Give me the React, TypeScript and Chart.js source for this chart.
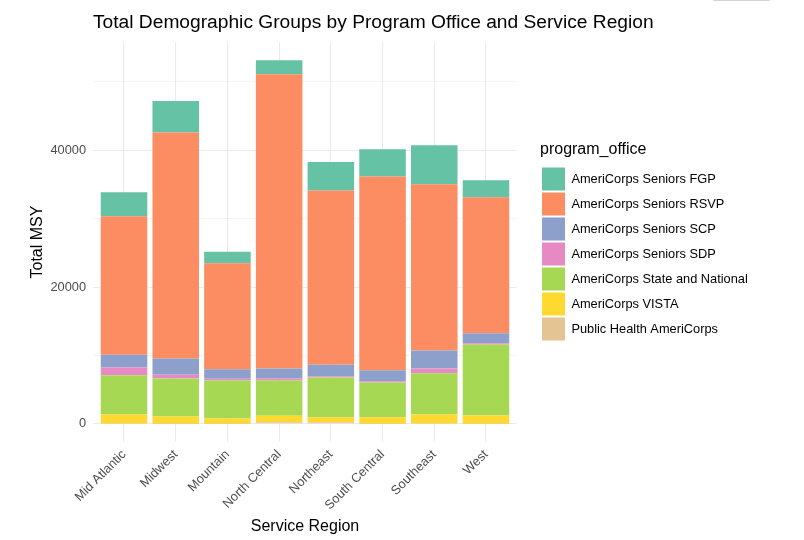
import React, { useEffect, useRef } from "react";
import { Chart, registerables } from "chart.js";

Chart.register(...registerables);

const TITLE = "Total Demographic Groups by Program Office and Service Region";
const regions = ["Mid Atlantic", "Midwest", "Mountain", "North Central", "Northeast", "South Central", "Southeast", "West"];

// Series values (stack order bottom -> top)
const publicHealth = [30, 20, 20, 230, 230, 20, 30, 20];
const vista = [1330, 1050, 760, 940, 740, 950, 1330, 1190];
const stateNational = [5750, 5560, 5560, 5170, 5810, 5080, 6050, 10400];
const seniorsSDP = [1130, 540, 250, 290, 190, 190, 690, 190];
const seniorsSCP = [1860, 2390, 1400, 1460, 1670, 1610, 2630, 1460];
const seniorsRSVP = [20250, 33040, 15480, 43040, 25470, 28310, 24300, 19870];
const seniorsFGP = [3510, 4630, 1710, 2050, 4190, 4000, 5710, 2490];

const yTicks = [0, 10000, 20000, 30000, 40000, 50000];
const yLabelTicks = [0, 20000, 40000];

const FONT = '"Liberation Sans", Arial, sans-serif';

const series = [
  { label: "Public Health AmeriCorps", data: publicHealth, color: "#E5C494" },
  { label: "AmeriCorps VISTA", data: vista, color: "#FFD92F" },
  { label: "AmeriCorps State and National", data: stateNational, color: "#A6D854" },
  { label: "AmeriCorps Seniors SDP", data: seniorsSDP, color: "#E78AC3" },
  { label: "AmeriCorps Seniors SCP", data: seniorsSCP, color: "#8DA0CB" },
  { label: "AmeriCorps Seniors RSVP", data: seniorsRSVP, color: "#FC8D62" },
  { label: "AmeriCorps Seniors FGP", data: seniorsFGP, color: "#66C2A5" },
];

export default function App() {
  const ref = useRef<HTMLCanvasElement>(null);

  useEffect(() => {
    const canvas = ref.current;
    if (!canvas) return;

    const totals = regions.map((_, i) => series.reduce((s, d) => s + d.data[i], 0));
    const maxTotal = Math.max(...totals);
    const yMin = -maxTotal * 0.05;
    const yMax = maxTotal * 1.05;

    const mctx = document.createElement("canvas").getContext("2d")!;
    mctx.font = `12.8px ${FONT}`;
    const maxW = Math.max(...series.map((s) => mctx.measureText(s.label).width));
    const legendW = 2 + 23 + 6.4 + maxW + 10;
    const panelRight = 517;
    const padRight = Math.max(0, 804 - panelRight - legendW);

    const shiftPlugin = {
      id: "ggShift",
      afterLayout(chart: any) {
        const lg = chart.legend;
        if (lg) {
          lg.left += 23;
          lg.right += 23;
        }
        const tb = chart.titleBlock;
        if (tb) {
          tb.left = chart.chartArea.left;
        }
      },
    };

    const chart = new Chart(canvas, {
      type: "bar",
      data: {
        datasets: series.map((s) => ({
          label: s.label,
          data: s.data.map((v, i) => ({ x: i, y: v })),
          backgroundColor: s.color,
          borderWidth: 0,
          barPercentage: 0.9,
          categoryPercentage: 1.0,
        })),
      },
      plugins: [shiftPlugin],
      options: {
        animation: false,
        responsive: true,
        maintainAspectRatio: false,
        events: [],
        layout: { padding: { left: 0, right: padRight, top: 0, bottom: 0 } },
        plugins: {
          tooltip: { enabled: false },
          title: {
            display: true,
            text: TITLE,
            align: "start",
            color: "#000000",
            font: { family: FONT, size: 19.2, weight: "normal", lineHeight: 1.2 },
            padding: { top: 11, bottom: 8 },
          },
          legend: {
            display: true,
            position: "right",
            align: "center",
            fullSize: false,
            reverse: true,
            maxWidth: Math.ceil(legendW) + 2,
            title: {
              display: true,
              text: "program_office",
              position: "start",
              color: "#000000",
              font: { family: FONT, size: 16, lineHeight: 1.2 },
              padding: { top: 0, bottom: 5 },
            },
            labels: {
              boxWidth: 23,
              boxHeight: 23,
              padding: 2,
              color: "#000000",
              font: { family: FONT, size: 12.8 },
            },
          },
        },
        scales: {
          x: {
            type: "linear",
            stacked: true,
            offset: false,
            min: -0.6,
            max: regions.length - 1 + 0.6,
            afterBuildTicks: (scale: any) => {
              scale.ticks = regions.map((_, i) => ({ value: i }));
            },
            afterFit: (scale: any) => {
              scale.height = 98;
            },
            ticks: {
              autoSkip: false,
              minRotation: 45,
              maxRotation: 45,
              padding: 5,
              color: "#4D4D4D",
              font: { family: FONT, size: 12.8 },
              callback: (v: any) => regions[v as number] ?? "",
            },
            grid: { color: "#EBEBEB", lineWidth: 1.1, drawTicks: false, offset: false },
            border: { display: false },
            title: {
              display: true,
              text: "Service Region",
              color: "#000000",
              font: { family: FONT, size: 16, lineHeight: 1.2 },
              padding: { top: 0, bottom: 4 },
            },
          },
          y: {
            type: "linear",
            stacked: true,
            min: yMin,
            max: yMax,
            afterBuildTicks: (scale: any) => {
              scale.ticks = yTicks.map((v) => ({ value: v }));
            },
            afterFit: (scale: any) => {
              scale.width = 93;
            },
            ticks: {
              padding: 7,
              color: "#4D4D4D",
              font: { family: FONT, size: 12.8 },
              callback: (v: any) => (yLabelTicks.includes(v as number) ? String(v) : ""),
            },
            grid: {
              color: "#EBEBEB",
              drawTicks: false,
              lineWidth: (ctx: any) =>
                ctx.tick && yLabelTicks.includes(ctx.tick.value) ? 1.1 : 0.6,
            },
            border: { display: false },
            title: {
              display: true,
              text: "Total MSY",
              color: "#000000",
              font: { family: FONT, size: 16, lineHeight: 1.2 },
              padding: { top: 28, bottom: 0 },
            },
          },
        },
      } as any,
    });

    return () => chart.destroy();
  }, []);

  return (
    <div style={{ position: "absolute", left: 0, top: 0, width: 804, height: 540, background: "#ffffff" }}>
      <canvas ref={ref} />
      <div
        style={{
          position: "absolute",
          left: 713,
          top: -1,
          width: 57,
          height: 2,
          borderRadius: 1,
          background: "#d4d4d4",
        }}
      />
    </div>
  );
}
